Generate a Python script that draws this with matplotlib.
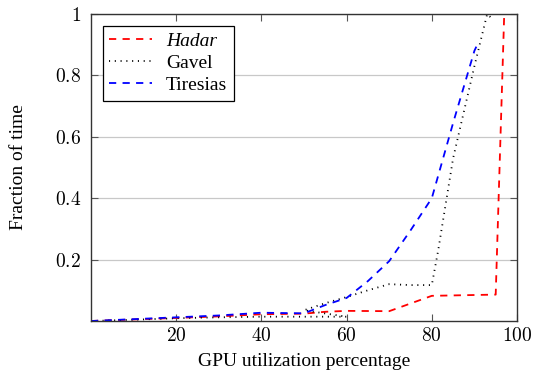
import numpy as np
import matplotlib.pyplot as plt

plt.rcParams['font.family'] = ['Liberation Serif', 'DejaVu Serif']
plt.rcParams['mathtext.fontset'] = 'cm'

# Hadar (red dashed)
hadar_x = [0, 10, 20, 30, 40, 50, 55, 60, 70, 80, 95, 97]
hadar_y = [0, 0.005, 0.01, 0.015, 0.022, 0.024, 0.03, 0.033, 0.032, 0.082, 0.086, 1.0]

# Gavel (black dotted)
gavel_x = [0, 10, 20, 30, 40, 50, 60, 50, 55, 60, 65, 70, 75, 80, 81.5, 85, 90, 93, 94.5]
gavel_y = [0, 0.004, 0.009, 0.012, 0.014, 0.014, 0.014, 0.035, 0.058, 0.078,
           0.1, 0.12, 0.117, 0.117, 0.23, 0.53, 0.83, 1.0, 0.98]

# Tiresias (blue dashed)
tiresias_x = [0, 10, 20, 30, 40, 50, 55, 60, 65, 70, 75, 80, 85, 90, 91]
tiresias_y = [0, 0.006, 0.012, 0.018, 0.027, 0.025, 0.052, 0.075, 0.13, 0.195,
              0.295, 0.4, 0.645, 0.88, 0.91]

xticks = [20, 40, 60, 80, 100]
yticks = [0.2, 0.4, 0.6, 0.8, 1]

fig = plt.figure(figsize=(5.35, 3.72), dpi=100)
ax = fig.add_axes([91 / 535, 1 - 321 / 372, 426 / 535, 307 / 372])

ax.plot(hadar_x, hadar_y, color='red', lw=1.3, dashes=(4, 3.5), label='Hadar')
ax.plot(gavel_x, gavel_y, color='black', lw=1.3, dashes=(0.6, 2.6), label='Gavel')
ax.plot(tiresias_x, tiresias_y, color='blue', lw=1.3, dashes=(4, 3.5), label='Tiresias')

ax.set_xlim(0, 100)
ax.set_ylim(0, 1)
ax.set_xticks(xticks)
ax.set_xticklabels(['$%d$' % t for t in xticks])
ax.set_yticks(yticks)
ax.set_yticklabels(['$%g$' % t for t in yticks])
ax.tick_params(direction='in', top=True, right=True, length=5, labelsize=14,
               color='#555555')
ax.tick_params(axis='x', pad=4)
ax.tick_params(axis='y', pad=7)
ax.yaxis.grid(True, color='#c8c8c8', lw=0.9)
ax.set_axisbelow(True)
for s in ax.spines.values():
    s.set_color('#333333')
    s.set_linewidth(1.0)

ax.set_xlabel('GPU utilization percentage', fontsize=14, labelpad=6)
ax.set_ylabel('Fraction of time', fontsize=14, labelpad=20)

leg = ax.legend(loc='upper left', fontsize=14, fancybox=False, edgecolor='black',
                framealpha=1, handlelength=2.2, handletextpad=0.7,
                borderaxespad=0.6, borderpad=0.35, labelspacing=0.22)
leg.get_frame().set_linewidth(0.9)
leg.get_texts()[0].set_style('italic')

fig.savefig('out.png', dpi=100)
